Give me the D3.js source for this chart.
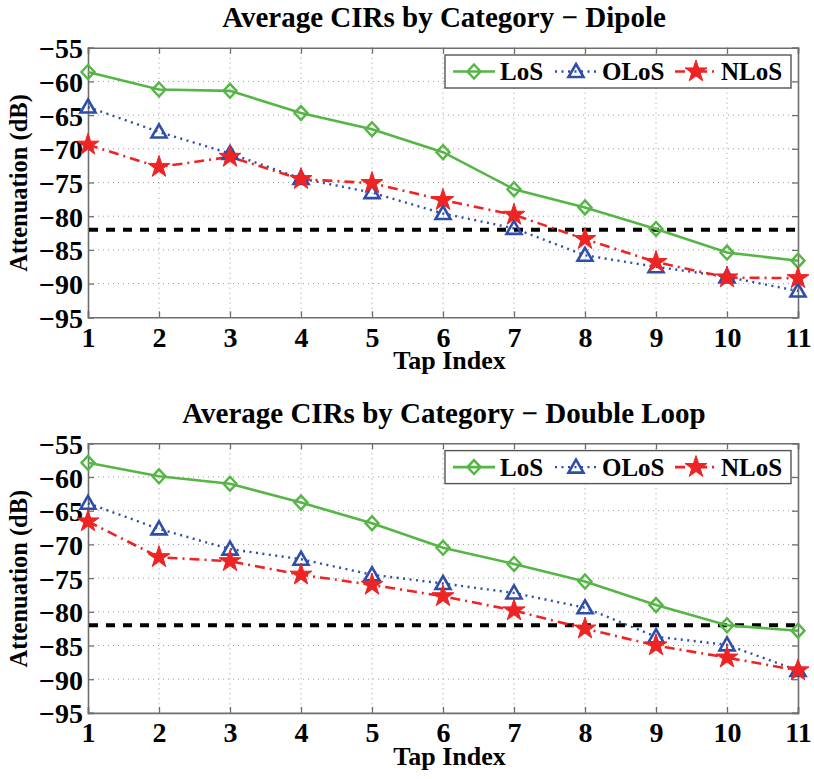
<!DOCTYPE html>
<html>
<head>
<meta charset="utf-8">
<script src="https://cdn.jsdelivr.net/npm/d3@7"></script>
<style>
  html, body { margin: 0; padding: 0; background: #fff; }
  svg { display: block; }
  text { font-family: "Liberation Serif", "Times New Roman", serif; font-weight: bold; fill: #000; }
</style>
</head>
<body>
<script>
// Tap indices shared by both panels
const taps = [1, 2, 3, 4, 5, 6, 7, 8, 9, 10, 11];
const yTicks = [-55, -60, -65, -70, -75, -80, -85, -90, -95];
const threshold = -82;

// Dipole antenna: average attenuation per tap (dB)
const dipoleLoS  = [-58.6, -61.2, -61.4, -64.7, -67.1, -70.5, -76.0, -78.7, -81.9, -85.4, -86.6];
const dipoleOLoS = [-63.8, -67.5, -70.7, -74.4, -76.5, -79.6, -81.8, -85.8, -87.5, -89.0, -91.1];
const dipoleNLoS = [-69.4, -72.7, -71.2, -74.5, -75.1, -77.6, -79.8, -83.4, -86.8, -89.1, -89.2];

// Double-loop antenna: average attenuation per tap (dB)
const loopLoS  = [-57.9, -59.9, -61.0, -63.8, -66.85, -70.5, -72.9, -75.5, -79.0, -82.0, -82.8];
const loopOLoS = [-63.9, -67.7, -70.7, -72.2, -74.5, -75.8, -77.2, -79.4, -83.7, -84.9, -88.7];
const loopNLoS = [-66.6, -71.9, -72.5, -74.5, -76.0, -77.7, -79.8, -82.5, -85.0, -86.8, -88.7];

const seriesNames = ["LoS", "OLoS", "NLoS"];

const W = 814, H = 779;
const svg = d3.select("body").append("svg").attr("width", W).attr("height", H);

const styles = {
  LoS:  { color: "#55b545", dash: null,        width: 2.6, marker: "diamond" },
  OLoS: { color: "#2f4ea8", dash: "2,4.5",     width: 2.4, marker: "triangle" },
  NLoS: { color: "#ee2424", dash: "10,5,2,5",  width: 2.6, marker: "star" }
};

function drawMarker(g, type, color, x, y) {
  if (type === "diamond") {
    g.append("path")
      .attr("d", `M${x},${y - 7}L${x + 6.5},${y}L${x},${y + 7}L${x - 6.5},${y}Z`)
      .attr("fill", "none").attr("stroke", color).attr("stroke-width", 2.4);
  } else if (type === "triangle") {
    g.append("path")
      .attr("d", `M${x},${y - 7.5}L${x + 7.5},${y + 5.5}L${x - 7.5},${y + 5.5}Z`)
      .attr("fill", "none").attr("stroke", color).attr("stroke-width", 2.6)
      .attr("stroke-linejoin", "miter");
  } else {
    g.append("path")
      .attr("d", d3.symbol().type(d3.symbolStar).size(150)())
      .attr("transform", `translate(${x},${y})`)
      .attr("fill", color).attr("stroke", color).attr("stroke-width", 1);
  }
}

function panel(top, title, data) {
  const left = 88, right = 798, plotTop = top + 47.7, plotBottom = top + 317.3;
  const x = d3.scaleLinear().domain([1, 11]).range([left, right]);
  const y = d3.scaleLinear().domain([-95, -55]).range([plotBottom, plotTop]);
  const g = svg.append("g");

  // dotted grid
  const grid = g.append("g").attr("stroke", "#9a9a9a").attr("stroke-width", 1).attr("stroke-dasharray", "1,4");
  taps.slice(1, -1).forEach(t => grid.append("line").attr("x1", x(t)).attr("x2", x(t)).attr("y1", plotTop).attr("y2", plotBottom));
  yTicks.slice(1, -1).forEach(v => grid.append("line").attr("x1", left).attr("x2", right).attr("y1", y(v)).attr("y2", y(v)));

  // axes with inward ticks on all four sides
  const axisColor = "#6e6e6e";
  const axB = g.append("g").attr("transform", `translate(0,${plotBottom})`)
    .call(d3.axisBottom(x).tickValues(taps).tickSize(-6).tickPadding(10).tickFormat(d3.format("d")));
  const axT = g.append("g").attr("transform", `translate(0,${plotTop})`)
    .call(d3.axisTop(x).tickValues(taps).tickSize(-6).tickFormat(""));
  const axL = g.append("g").attr("transform", `translate(${left},0)`)
    .call(d3.axisLeft(y).tickValues(yTicks).tickSize(-6).tickPadding(5).tickFormat(d => "\u2212" + Math.abs(d)));
  const axR = g.append("g").attr("transform", `translate(${right},0)`)
    .call(d3.axisRight(y).tickValues(yTicks).tickSize(-6).tickFormat(""));
  [axB, axT, axL, axR].forEach(a => {
    a.selectAll("path.domain").attr("stroke", axisColor).attr("stroke-width", 1.6);
    a.selectAll(".tick line").attr("stroke", axisColor).attr("stroke-width", 1.3);
    a.selectAll("text").attr("font-family", "'Liberation Serif', serif").attr("font-weight", "bold")
      .attr("font-size", 28).attr("fill", "#000");
  });
  axB.selectAll("text").attr("dy", "0.7em");
  axL.selectAll("text").attr("dy", "0.36em");

  // title and axis labels
  g.append("text").attr("x", 444).attr("y", top + 27).attr("text-anchor", "middle")
    .attr("font-size", 29).text(title);
  g.append("text").attr("x", 449.5).attr("y", top + 369).attr("text-anchor", "middle")
    .attr("font-size", 26).text("Tap Index");
  g.append("text").attr("transform", `translate(27,${top + 183}) rotate(-90)`).attr("text-anchor", "middle")
    .attr("font-size", 24.5).text("Attenuation (dB)");

  // threshold line
  g.append("line").attr("x1", left + 1).attr("x2", right - 1)
    .attr("y1", y(threshold)).attr("y2", y(threshold))
    .attr("stroke", "#000").attr("stroke-width", 4).attr("stroke-dasharray", "9,8");

  // series
  const line = d3.line().x((d, i) => x(taps[i])).y(d => y(d));
  seriesNames.forEach((name, si) => {
    const s = styles[name];
    g.append("path").datum(data[si]).attr("d", line).attr("fill", "none")
      .attr("stroke", s.color).attr("stroke-width", s.width)
      .attr("stroke-dasharray", s.dash);
  });
  seriesNames.forEach((name, si) => {
    const s = styles[name];
    data[si].forEach((v, i) => drawMarker(g, s.marker, s.color, x(taps[i]), y(v)));
  });

  // legend
  const lg = g.append("g");
  const lx = 445, ly = top + 55, lw = 346, lh = 33;
  lg.append("rect").attr("x", lx).attr("y", ly).attr("width", lw).attr("height", lh)
    .attr("fill", "#fff").attr("stroke", "#555").attr("stroke-width", 1.4);
  const entries = [
    { name: "LoS",  x0: 453, tx: 500 },
    { name: "OLoS", x0: 555, tx: 602 },
    { name: "NLoS", x0: 675, tx: 721 }
  ];
  entries.forEach(e => {
    const s = styles[e.name];
    const cy = ly + lh / 2;
    lg.append("line").attr("x1", e.x0).attr("x2", e.x0 + 42).attr("y1", cy).attr("y2", cy)
      .attr("stroke", s.color).attr("stroke-width", s.width).attr("stroke-dasharray", s.dash);
    drawMarker(lg, s.marker, s.color, e.x0 + 21, cy);
    lg.append("text").attr("x", e.tx).attr("y", cy + 8.5).attr("font-size", 25).text(e.name);
  });
}

panel(0, "Average CIRs by Category \u2212 Dipole", [dipoleLoS, dipoleOLoS, dipoleNLoS]);
panel(395.6, "Average CIRs by Category \u2212 Double Loop", [loopLoS, loopOLoS, loopNLoS]);
</script>
</body>
</html>
